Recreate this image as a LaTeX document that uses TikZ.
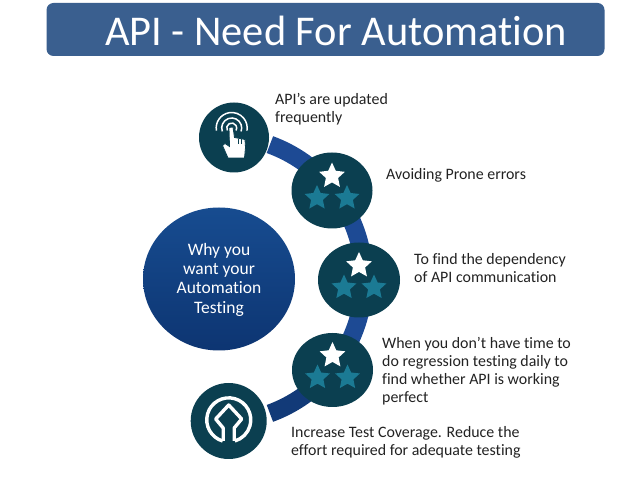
\documentclass[tikz,border=0pt]{standalone}
\usepackage{fontspec}
\setmainfont[Ligatures=NoCommon]{Carlito}
\usetikzlibrary{shapes.geometric,calc}
\definecolor{banner}{HTML}{3A5F8F}
\definecolor{disc}{HTML}{0B3F50}
\definecolor{tealstar}{HTML}{1B7A94}
\definecolor{band}{HTML}{1D4A94}
\definecolor{bandb}{HTML}{123A78}
\definecolor{bigtop}{HTML}{174C90}
\definecolor{bigbot}{HTML}{0D3572}
\definecolor{txt}{HTML}{222222}
\tikzset{
  x=1pt,y=-1pt,
  discnode/.style 2 args={ellipse,fill=disc,minimum width=#1,minimum height=#2,inner sep=0pt},
  wstar/.style={star,star points=5,star point ratio=2.1,fill=white,minimum size=27pt,inner sep=0pt},
  tstar/.style={star,star points=5,star point ratio=2.1,fill=tealstar,minimum size=26pt,inner sep=0pt},
  textlabel/.style={anchor=north west,align=left,font=\fontsize{15.9}{18}\selectfont,text=txt,inner sep=0pt},
  iconline/.style={draw=white,line width=1.5pt,fill=none}
}
\newcommand{\threestars}[1]{%
  \node[wstar] at ($(#1)+(0,-14.5)$) {};
  \node[tstar] at ($(#1)+(-15,7.5)$) {};
  \node[tstar] at ($(#1)+(15,7.5)$) {};
}
\begin{document}
\begin{tikzpicture}
\useasboundingbox (0,0) rectangle (638,478);
\fill[white] (0,0) rectangle (638,478);
\node[fill=banner,rounded corners=7pt,minimum width=558pt,minimum height=53pt,inner sep=0pt] (title) at (325.5,29.5) {};
\node[anchor=base west,text=white,font=\fontsize{42.4}{44}\selectfont,inner sep=0pt] (titletext) at (105,46) {API - Need For Automation};
% arc
\coordinate (arcc) at (221,279);
\draw[band,line width=18pt] (arcc) ++(-70:143) arc[start angle=-70,end angle=28,radius=143];
\draw[bandb,line width=18pt] (arcc) ++(28:143) arc[start angle=28,end angle=70,radius=143];
% big disc
\node[ellipse,top color=bigtop,bottom color=bigbot,minimum width=152pt,minimum height=143pt,inner sep=0pt,text=white,align=center,font=\fontsize{17.5}{19.4}\selectfont] (why) at (219,279) {\rule{0pt}{3pt}\\[-9pt]Why you\\want your\\Automation\\Testing};
% discs
\node[circle,fill=disc,minimum size=70pt,inner sep=0pt] (d1) at (234,137.5) {};
\node[discnode={81pt}{76pt}] (d2) at (332,190.5) {};
\node[discnode={82pt}{75pt}] (d3) at (359,280) {};
\node[discnode={81pt}{74pt}] (d4) at (332.5,370) {};
\node[circle,fill=disc,minimum size=76pt,inner sep=0pt] (d5) at (228.7,421) {};
\threestars{d2}
\threestars{d3}
\threestars{d4}
% touch icon
\begin{scope}[shift={(d1)}]
  \coordinate (ringc) at (-2.3,-9.5);
  \draw[iconline] (ringc) ++(150:5) arc[start angle=150,end angle=390,radius=5];
  \draw[iconline] (ringc) ++(160:10) arc[start angle=160,end angle=380,radius=10];
  \draw[iconline] (ringc) ++(170:15.5) arc[start angle=170,end angle=370,radius=15.5];
  \fill[white,draw=disc,line width=0.8pt] (-5,-10) -- (-1,-10.5) -- (0.5,0) -- (11,2) -- (11.5,10) -- (10.5,20.5) -- (-6,20.5) -- (-11.5,8) -- (-9,6) -- (-4.5,9) -- cycle;
  \fill[disc] (3.5,2) rectangle (4.2,7);
  \fill[disc] (7,2) rectangle (7.7,7);
\end{scope}
% landmark icon
\begin{scope}[shift={(d5)}]
  \draw[white,line width=3.4pt] (-6,20) arc[start angle=106,end angle=434,radius=22];
  \draw[white,line width=3.4pt,line join=round] (-5.5,20) -- (-5.5,7) -- (-13,-2) -- (0,-16) -- (13,-2) -- (5.5,7) -- (5.5,20);
\end{scope}
% labels
\node[textlabel] (l1) at (275,93.5) {API’s are updated\\frequently};
\node[textlabel] (l2) at (386,168) {Avoiding Prone errors};
\node[textlabel] (l3) at (414,253.5) {To find the dependency\\of API communication};
\node[textlabel] (l4) at (382,337.5) {When you don’t have time to\\do regression testing daily to\\find whether API is working\\perfect};
\node[textlabel] (l5) at (291,426.5) {Increase Test Coverage. Reduce the\\effort required for adequate testing};
\end{tikzpicture}
\end{document}
